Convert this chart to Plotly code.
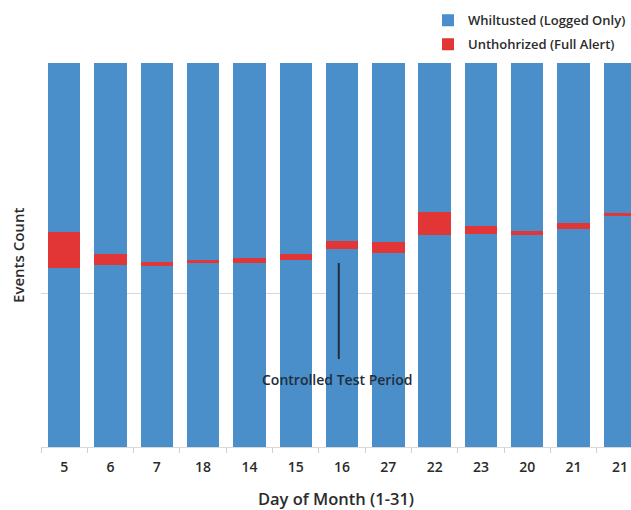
import plotly.graph_objects as go

days = ["5", "6", "7", "18", "14", "15", "16", "27", "22", "23", "20", "21", "21"]
whitelisted_low = [46.6, 47.4, 47.1, 47.8, 47.9, 48.6, 51.6, 50.6, 55.3, 55.5, 55.2, 56.7, 60.1]
unauthorized = [9.4, 2.9, 1.0, 0.9, 1.4, 1.6, 2.1, 2.7, 6.0, 2.0, 1.1, 1.6, 0.9]
total = 100
whitelisted_high = [total - a - b for a, b in zip(whitelisted_low, unauthorized)]

BLUE = "#4a8fc9"
RED = "#e23636"
FONT = "Open Sans"
TXT = "#2b2b2b"
W = 600

x = list(range(len(days)))

fig = go.Figure()
fig.add_trace(go.Bar(x=x, y=whitelisted_low, name="Whiltusted (Logged Only)",
                     marker=dict(color=BLUE, line=dict(width=0)), legendgroup="a"))
fig.add_trace(go.Bar(x=x, y=unauthorized, name="Unthohrized (Full Alert)",
                     marker=dict(color=RED, line=dict(width=0)), legendgroup="b"))
fig.add_trace(go.Bar(x=x, y=whitelisted_high, name="Whiltusted (Logged Only)",
                     marker=dict(color=BLUE, line=dict(width=0)), showlegend=False, legendgroup="a"))

fig.add_shape(type="line", xref="x", yref="y", x0=5.93, x1=5.93, y0=47.9, y1=22.9,
              line=dict(color="#1f2d3d", width=2))
fig.add_annotation(xref="x", yref="y", x=5.9, y=17.5, text="Controlled Test Period",
                   showarrow=False, font=dict(family=FONT, size=14, color="#1f2d3d", weight=W))
# y-axis title
fig.add_annotation(xref="paper", yref="paper", x=-0.039, y=0.5, text="Events Count",
                   textangle=-90, showarrow=False, xanchor="center", yanchor="middle",
                   font=dict(family=FONT, size=15, color=TXT, weight=W))

fig.update_layout(
    width=631, height=510,
    margin=dict(l=41, r=0, t=63, b=63),
    barmode="stack", bargap=0.3,
    plot_bgcolor="white", paper_bgcolor="white",
    font=dict(family=FONT, color=TXT),
    showlegend=True,
    legend=dict(xref="paper", yref="paper", x=1.0, y=1.15, xanchor="right", yanchor="top",
                traceorder="grouped", tracegroupgap=4,
                font=dict(family=FONT, size=13, color=TXT, weight=W), bgcolor="rgba(0,0,0,0)"),
    xaxis=dict(range=[-0.5, 12.24], tickvals=x, ticktext=days,
               ticks="outside", ticklen=7, tickcolor="rgba(0,0,0,0)",
               tickfont=dict(family=FONT, size=14, color=TXT, weight=W),
               showgrid=False, zeroline=False, showline=True, linecolor="#d9d9d9", linewidth=1,
               minor=dict(tickvals=[i - 0.5 for i in range(len(days) + 1)], ticks="outside",
                          ticklen=5, tickcolor="#d0d0d0", showgrid=False),
               title=dict(text="Day of Month (1-31)", standoff=22,
                          font=dict(family=FONT, size=16.5, color=TXT, weight=W)),
               automargin=False),
    yaxis=dict(range=[0, 100], tickvals=[0, 40, 100], showticklabels=False, ticks="",
               showgrid=True, gridcolor="#d9d9d9", gridwidth=1, zeroline=False, showline=False,
               automargin=False),
)

fig.write_html("out.html", config={"displayModeBar": False},
               post_script="document.body.style.margin='0px';")
